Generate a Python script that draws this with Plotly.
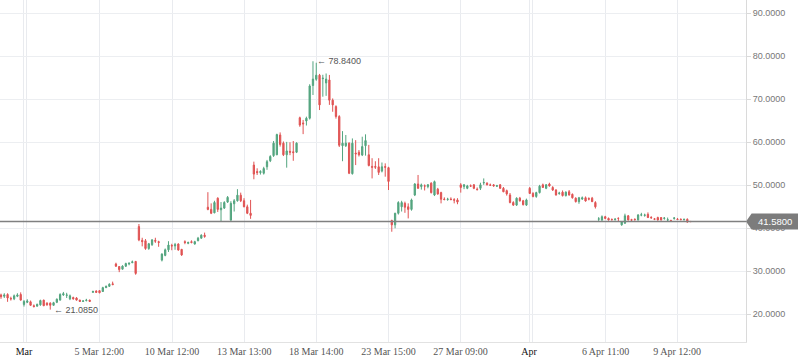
import plotly.graph_objects as go

open_ = [24.5, 24.2, 24.6, 23.7, 23.6, 24.2, 24.6, 22.3, 22.8, 22.9,
         22.0, 21.9, 22.2, 23.3, 22.6, 22.6, 22.1, 22.8, 23.3, 24.5,
         24.4, 23.6, 23.9, 23.8, 23.3, 23.0, 23.2, 23.3, 25.1, 25.4,
         25.5, 25.3, 26.2, 26.5, 27.1, 31.7, 31.1, 30.5, 31.2, 31.7,
         32.0, 32.3, 40.4, 37.2, 37.1, 35.3, 36.2, 37.2, 36.9, 32.6,
         33.7, 35.0, 36.0, 35.9, 36.35, 35.1, 36.9, 36.5, 36.9, 36.35,
         37.1, 37.7, 38.4, 44.9, 44.4, 43.6, 47.0, 44.3, 44.7, 46.1,
         41.9, 45.7, 46.4, 47.7, 46.4, 45.0, 43.5, 54.7, 53.2, 52.95,
         52.8, 54.3, 55.7, 56.9, 57.1, 61.7, 59.8, 57.1, 57.9, 57.8,
         57.7, 65.7, 64.5, 64.95, 65.6, 73.2, 74.65, 75.6, 74.8, 73.8,
         74.5, 69.8, 68.3, 66.0, 59.2, 59.2, 59.8, 52.7, 57.5, 57.7,
         57.05, 59.2, 57.1, 54.4, 54.4, 54.3, 53.3, 54.35, 54.1, 41.8,
         40.8, 43.5, 45.0, 45.8, 45.0, 44.4, 47.75, 50.3, 49.7, 49.9,
         49.7, 50.5, 47.75, 49.1, 48.3, 46.8, 46.7, 46.8, 46.65, 46.6,
         50.1, 49.7, 49.3, 49.9, 50.1, 49.1, 49.3, 50.55, 50.5, 50.1,
         50.1, 49.8, 50.1, 49.3, 48.75, 47.75, 46.0, 45.4, 47.0, 46.4,
         45.4, 49.3, 48.1, 47.4, 48.3, 50.1, 49.3, 50.3, 49.5, 48.9,
         48.1, 48.4, 47.6, 48.5, 47.9, 47.0, 46.2, 46.8, 47.1, 46.9,
         47.0, 46.0, 42.1, 41.94, 42.7, 42.3, 42.05, 42.0, 42.35, 40.8,
         41.2, 42.9, 42.0, 42.1, 41.94, 43.05, 43.0, 43.25, 42.55, 42.2,
         42.5, 42.5, 42.3, 41.9, 41.8, 42.3, 42.15, 42.1, 42.0, 42.1,
         41.6]
high = [24.8, 24.9, 24.9, 24.1, 24.6, 24.9, 25.1, 23.3, 23.5, 23.2,
        22.3, 22.5, 23.4, 23.4, 22.8, 22.8, 22.9, 23.7, 24.9, 25.2,
        25.0, 24.6, 24.1, 24.0, 23.4, 23.3, 23.6, 23.4, 25.5, 25.6,
        25.6, 26.4, 26.7, 27.2, 27.6, 32.0, 31.2, 31.4, 32.0, 32.0,
        32.5, 32.4, 41.0, 37.8, 37.5, 36.6, 37.5, 37.8, 37.1, 34.2,
        35.3, 37.0, 36.4, 36.6, 36.5, 35.2, 37.2, 36.9, 37.2, 37.1,
        38.0, 38.6, 39.0, 48.4, 45.8, 46.4, 47.2, 46.1, 46.3, 47.5,
        46.3, 46.8, 49.1, 48.3, 47.0, 45.5, 46.6, 55.5, 53.95, 53.5,
        54.3, 55.9, 57.0, 60.3, 62.0, 62.3, 60.2, 60.1, 60.0, 60.3,
        60.0, 65.96, 65.2, 65.96, 73.5, 78.84, 78.5, 75.9, 75.7, 76.0,
        75.66, 70.2, 68.6, 66.3, 62.6, 61.7, 60.0, 60.9, 60.5, 58.2,
        61.3, 61.85, 59.4, 56.3, 55.6, 56.3, 55.3, 55.1, 54.3, 42.0,
        43.6, 46.3, 46.4, 46.2, 45.8, 46.9, 50.5, 52.4, 50.4, 50.2,
        50.3, 50.7, 51.1, 49.4, 48.5, 47.2, 47.1, 47.2, 47.0, 47.0,
        50.5, 50.3, 50.1, 50.2, 50.3, 49.5, 50.6, 51.6, 50.7, 50.4,
        50.3, 50.1, 50.3, 49.6, 49.0, 48.2, 46.3, 47.2, 47.3, 46.6,
        46.9, 49.6, 48.4, 48.5, 50.1, 50.4, 50.3, 50.6, 49.8, 49.1,
        48.5, 48.8, 48.6, 48.9, 48.1, 47.2, 47.3, 47.4, 47.4, 47.2,
        47.3, 46.3, 42.6, 43.0, 42.9, 42.5, 42.3, 42.4, 42.5, 41.6,
        43.4, 43.1, 42.2, 42.3, 43.3, 43.6, 43.4, 43.7, 42.8, 42.4,
        42.7, 42.6, 42.6, 42.5, 42.0, 42.6, 42.4, 42.3, 42.2, 42.3,
        41.7]
low = [23.6, 23.8, 22.9, 23.2, 23.3, 24.0, 23.2, 21.8, 22.6, 22.0,
       21.6, 21.8, 22.0, 21.9, 22.0, 21.085, 22.0, 22.6, 23.2, 24.3,
       23.8, 23.3, 23.4, 23.2, 22.9, 22.9, 23.0, 22.9, 25.0, 25.0,
       24.9, 25.2, 26.1, 26.4, 26.8, 31.0, 29.8, 30.4, 31.0, 31.4,
       31.9, 29.2, 37.0, 35.8, 35.0, 35.0, 35.9, 36.6, 35.7, 32.3,
       33.5, 34.5, 34.9, 35.0, 34.8, 33.6, 36.3, 36.3, 36.5, 36.2,
       37.0, 37.6, 37.8, 44.2, 43.3, 43.5, 43.8, 41.5, 44.5, 45.9,
       41.8, 43.9, 46.2, 46.1, 44.9, 43.3, 42.2, 51.4, 52.4, 52.5,
       52.5, 53.6, 55.4, 56.6, 57.0, 59.0, 56.8, 54.1, 57.0, 55.7,
       57.5, 63.6, 61.9, 63.9, 65.3, 71.0, 74.3, 67.5, 70.6, 70.8,
       68.7, 67.1, 65.5, 58.9, 55.6, 58.9, 52.6, 52.5, 54.7, 56.7,
       56.8, 56.9, 54.4, 51.6, 53.8, 52.4, 53.0, 52.0, 48.9, 39.2,
       40.0, 43.2, 43.9, 43.6, 42.3, 44.1, 47.5, 49.2, 49.0, 48.8,
       49.3, 48.1, 47.5, 47.8, 45.8, 46.5, 46.4, 46.5, 45.8, 45.6,
       48.3, 49.1, 49.1, 49.6, 49.1, 48.8, 48.9, 50.1, 50.0, 49.9,
       49.7, 49.6, 49.2, 48.4, 47.6, 45.8, 45.2, 45.2, 46.2, 45.3,
       45.2, 48.0, 47.2, 47.1, 48.1, 49.4, 49.1, 49.7, 48.7, 47.6,
       47.8, 47.4, 47.4, 47.6, 46.9, 46.0, 45.7, 46.6, 46.2, 46.5,
       46.1, 44.6, 41.6, 41.7, 42.1, 41.8, 41.8, 41.8, 41.55, 40.6,
       41.0, 41.8, 41.7, 41.8, 41.8, 42.8, 42.7, 42.4, 42.2, 41.9,
       41.8, 41.8, 42.0, 41.55, 41.5, 42.0, 41.9, 41.9, 41.8, 41.3,
       41.4]
close = [24.1, 24.5, 23.8, 23.6, 24.3, 24.5, 23.3, 23.0, 23.1, 22.1,
         21.8, 22.3, 23.2, 22.0, 22.2, 22.1, 22.7, 23.5, 24.6, 24.8,
         24.5, 24.3, 23.6, 23.3, 23.0, 23.1, 23.3, 23.0, 25.3, 25.1,
         25.0, 26.2, 26.5, 27.0, 26.9, 31.2, 30.4, 31.2, 31.8, 31.9,
         32.2, 29.5, 37.3, 36.9, 35.3, 36.4, 37.3, 37.0, 36.7, 34.0,
         35.0, 36.1, 35.9, 36.2, 34.95, 33.8, 36.7, 36.7, 36.7, 36.9,
         37.7, 38.4, 38.1, 44.4, 43.5, 46.0, 44.4, 44.7, 46.0, 47.2,
         45.8, 46.4, 47.7, 46.4, 45.0, 43.5, 43.0, 52.6, 52.95, 53.2,
         53.9, 55.5, 56.7, 59.8, 61.8, 59.5, 57.1, 58.0, 57.7, 57.6,
         59.8, 64.0, 64.3, 65.6, 73.1, 74.7, 75.6, 68.7, 74.9, 74.7,
         69.8, 68.7, 66.0, 59.3, 59.8, 59.8, 52.8, 59.8, 57.3, 57.1,
         59.0, 60.4, 54.6, 54.2, 54.2, 53.0, 54.3, 54.2, 50.9, 40.8,
         43.5, 46.0, 46.0, 44.9, 44.4, 46.6, 50.3, 49.3, 50.1, 49.8,
         50.1, 48.3, 50.85, 48.0, 46.75, 46.7, 46.8, 46.7, 46.55, 46.1,
         49.5, 50.1, 49.85, 49.8, 49.3, 49.0, 50.1, 50.65, 50.1, 50.0,
         49.85, 49.9, 49.3, 48.5, 48.0, 46.0, 45.4, 47.0, 46.4, 45.5,
         46.6, 48.1, 47.4, 48.3, 49.8, 49.5, 50.1, 49.85, 48.9, 47.75,
         48.2, 47.6, 48.4, 47.75, 47.1, 46.2, 47.1, 47.1, 46.35, 46.8,
         46.2, 45.0, 42.2, 42.7, 42.3, 41.94, 42.0, 42.1, 42.3, 41.55,
         42.9, 41.94, 41.9, 42.0, 43.1, 43.15, 43.1, 42.5, 42.45, 42.1,
         41.94, 41.94, 42.4, 42.0, 41.7, 42.4, 42.05, 42.0, 42.1, 41.45,
         41.58]
candle_idx = list(range(len(close)))

x_tick_vals = [7.0, 7.85, 29.9, 52.1, 74.05, 96.0, 118.0, 139.95, 160.8, 161.8, 184.1, 205.9]
x_tick_text = ["<span style='color:#111'>Mar</span>", "", "5 Mar 12:00", "10 Mar 12:00",
               "13 Mar 13:00", "18 Mar 14:00", "23 Mar 15:00", "27 Mar 09:00",
               "<span style='color:#111'>Apr</span>", "", "6 Apr 11:00", "9 Apr 12:00"]
y_tick_vals = [20, 30, 40, 50, 60, 70, 80, 90]
last_price = 41.58
peak_idx, peak_val = 95, 78.84
trough_idx, trough_val = 15, 21.085

GREEN = '#53a57f'
RED = '#e05353'

fig = go.Figure(go.Candlestick(
    x=candle_idx, open=open_, high=high, low=low, close=close,
    increasing=dict(line=dict(color=GREEN, width=1), fillcolor=GREEN),
    decreasing=dict(line=dict(color=RED, width=1), fillcolor=RED),
    whiskerwidth=0, hoverinfo='skip', showlegend=False))

fig.update_layout(
    width=798, height=363,
    margin=dict(l=0, r=52, t=0, b=21),
    paper_bgcolor='white', plot_bgcolor='white',
    boxgap=0.45,
    xaxis=dict(range=[-0.3045, 226.86], tickmode='array', tickvals=x_tick_vals, ticktext=x_tick_text,
               showgrid=True, gridcolor='#e9ebef', gridwidth=1, zeroline=False,
               showline=True, linecolor='#e2e2e2', ticks='',
               tickfont=dict(family='Liberation Serif', size=10, color='#555'),
               rangeslider=dict(visible=False), fixedrange=True),
    yaxis=dict(side='right', range=[13.56, 93.09], tickmode='array', tickvals=y_tick_vals,
               tickformat='.4f', showgrid=True, gridcolor='#eceef1', gridwidth=1, zeroline=False,
               showline=True, linecolor='#dadada', ticks='outside', ticklen=4, tickcolor='#dadada',
               tickfont=dict(family='Liberation Sans', size=9, color='#777'), fixedrange=True),
    shapes=[
        dict(type='line', xref='paper', x0=0, x1=1, yref='y', y0=last_price, y1=last_price,
             line=dict(color='#808080', width=1.5)),
        dict(type='path', xref='paper', yref='y',
             path=f'M 1.0,{last_price} L 1.0075,{last_price + 1.86} L 1.0697,{last_price + 1.86} '
                  f'L 1.0697,{last_price - 1.86} L 1.0075,{last_price - 1.86} Z',
             fillcolor='#7c7c7c', line=dict(width=0)),
    ],
    annotations=[
        dict(xref='paper', yref='y', x=1.039, y=last_price, text=f'{last_price:.4f}', showarrow=False,
             font=dict(family='Liberation Sans', size=9.5, color='white'), xanchor='center', yanchor='middle'),
        dict(x=peak_idx, y=peak_val, text=f'\u2190 {peak_val:.4f}', showarrow=False, xanchor='left',
             yanchor='middle', xshift=2, font=dict(family='Liberation Sans', size=9, color='#555')),
        dict(x=trough_idx, y=trough_val, text=f'\u2190 {trough_val:.4f}', showarrow=False, xanchor='left',
             yanchor='middle', xshift=2, font=dict(family='Liberation Sans', size=9, color='#555')),
    ],
)

fig.write_html('out.html', config={'displayModeBar': False},
               post_script="document.body.style.margin='0px';document.body.style.overflow='hidden';")
